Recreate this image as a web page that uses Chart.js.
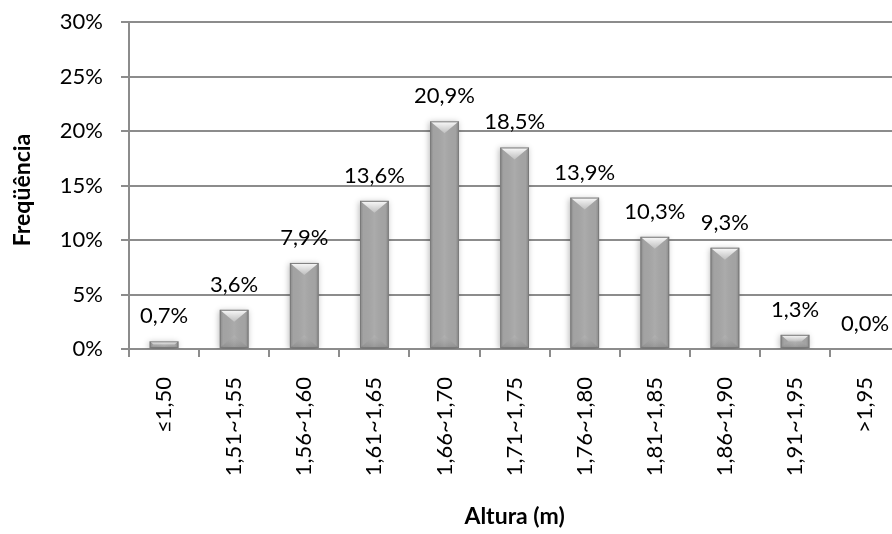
<!DOCTYPE html>
<html>
<head>
<meta charset="utf-8">
<script src="https://cdn.jsdelivr.net/npm/chart.js@4/dist/chart.umd.min.js"></script>
<style>
  html, body { margin: 0; padding: 0; background: #fff; overflow: hidden; }
  #wrap { width: 912px; height: 543px; margin-top: -9px; }
</style>
</head>
<body>
<div id="wrap"><canvas id="histChart" width="912" height="543"></canvas></div>
<script>
const categories = ['≤1,50', '1,51~1,55', '1,56~1,60', '1,61~1,65', '1,66~1,70', '1,71~1,75',
  '1,76~1,80', '1,81~1,85', '1,86~1,90', '1,91~1,95', '>1,95'];
const frequencies = [0.7, 3.6, 7.9, 13.6, 20.9, 18.5, 13.9, 10.3, 9.3, 1.3, 0.0];
const yTicks = [0, 5, 10, 15, 20, 25, 30];

const FONT = 'Lato';
const SHIFT = 9; // canvas is pulled up by this much
const fmt = v => v.toFixed(1).replace('.', ',') + '%';

// soft shadow under the bars, then bevel overlay on top
const bevelPlugin = {
  id: 'bevel',
  beforeDatasetsDraw(chart) {
    const ctx = chart.ctx;
    ctx.save();
    ctx.shadowColor = 'rgba(0,0,0,0.28)';
    ctx.shadowBlur = 6;
    ctx.shadowOffsetX = -1;
    ctx.shadowOffsetY = 1;
  },
  afterDatasetsDraw(chart) {
    const ctx = chart.ctx;
    ctx.restore();
    const meta = chart.getDatasetMeta(0);
    meta.data.forEach((bar, i) => {
      const { x, y, base, width } = bar.getProps(['x', 'y', 'base', 'width'], true);
      const h = base - y;
      if (h < 1) return;
      const L = x - width / 2, R = x + width / 2;
      ctx.save();
      // darker side strips
      let g = ctx.createLinearGradient(L, 0, R, 0);
      g.addColorStop(0, 'rgba(0,0,0,0.18)');
      g.addColorStop(0.12, 'rgba(0,0,0,0.02)');
      g.addColorStop(0.5, 'rgba(255,255,255,0.06)');
      g.addColorStop(0.88, 'rgba(0,0,0,0.02)');
      g.addColorStop(1, 'rgba(0,0,0,0.18)');
      ctx.fillStyle = g;
      ctx.fillRect(L, y, width, h);
      // top bevel
      const d = Math.min(12, h / 2);
      const k = (width / 2) * (d / 12);
      g = ctx.createLinearGradient(0, y, 0, y + d);
      g.addColorStop(0, 'rgba(255,255,255,0.95)');
      g.addColorStop(1, 'rgba(255,255,255,0.25)');
      ctx.fillStyle = g;
      ctx.beginPath();
      ctx.moveTo(L, y); ctx.lineTo(R, y); ctx.lineTo(R - k, y + d); ctx.lineTo(L + k, y + d);
      ctx.closePath(); ctx.fill();
      // bottom bevel
      const d2 = Math.min(13, h / 2);
      const k2 = (width / 2) * (d2 / 13);
      g = ctx.createLinearGradient(0, base, 0, base - d2);
      g.addColorStop(0, 'rgba(0,0,0,0.12)');
      g.addColorStop(1, 'rgba(255,255,255,0.08)');
      ctx.fillStyle = g;
      ctx.beginPath();
      ctx.moveTo(L, base); ctx.lineTo(R, base); ctx.lineTo(R - k2, base - d2); ctx.lineTo(L + k2, base - d2);
      ctx.closePath(); ctx.fill();
      // outline
      ctx.strokeStyle = '#7a7a7a';
      ctx.lineWidth = 1;
      ctx.strokeRect(L + 0.5, y + 0.5, width - 1, h - 1);
      ctx.restore();
    });
  }
};

const labelPlugin = {
  id: 'valueLabels',
  afterDatasetsDraw(chart) {
    const ctx = chart.ctx;
    const meta = chart.getDatasetMeta(0);
    ctx.save();
    ctx.font = '22px ' + FONT;
    ctx.fillStyle = '#000';
    ctx.textAlign = 'center';
    ctx.textBaseline = 'alphabetic';
    meta.data.forEach((bar, i) => {
      ctx.fillText(fmt(frequencies[i]), bar.x, bar.y - 18);
    });
    ctx.restore();
  }
};

const titlePlugin = {
  id: 'axisTitles',
  afterDraw(chart) {
    const ctx = chart.ctx;
    const area = chart.chartArea;
    ctx.save();
    ctx.font = 'bold 23px ' + FONT;
    ctx.fillStyle = '#000';
    ctx.textAlign = 'center';
    ctx.textBaseline = 'middle';
    ctx.fillText('Altura (m)', (area.left + area.right) / 2, 517 + SHIFT);
    ctx.translate(23, 190 + SHIFT);
    ctx.rotate(-Math.PI / 2);
    ctx.fillText('Freqüência', 0, 0);
    ctx.restore();
  }
};

new Chart(document.getElementById('histChart'), {
  type: 'bar',
  data: {
    labels: categories,
    datasets: [{
      data: frequencies,
      backgroundColor: '#a6a6a6',
      borderWidth: 0,
      barPercentage: 0.41,
      categoryPercentage: 1
    }]
  },
  options: {
    responsive: false,
    animation: false,
    layout: { padding: { top: 0, right: 10, left: 0, bottom: 0 } },
    plugins: { legend: { display: false }, tooltip: { enabled: false } },
    scales: {
      x: {
        grid: { drawOnChartArea: false, drawTicks: true, tickLength: 8, color: '#8c8c8c', lineWidth: 2 },
        border: { color: '#8c8c8c', width: 2 },
        ticks: {
          minRotation: 90, maxRotation: 90, padding: 20, autoSkip: false,
          color: '#000', font: { family: FONT, size: 22 }
        },
        afterFit(scale) { scale.height = 185; }
      },
      y: {
        min: 0, max: 30,
        afterBuildTicks(scale) { scale.ticks = yTicks.map(v => ({ value: v })); },
        grid: { tickLength: 8, color: '#8c8c8c', lineWidth: 2 },
        border: { color: '#8c8c8c', width: 2 },
        ticks: {
          padding: 18, color: '#000', font: { family: FONT, size: 22 },
          callback: v => v + '%'
        },
        afterFit(scale) { scale.width = 129; }
      }
    }
  },
  plugins: [bevelPlugin, labelPlugin, titlePlugin]
});
</script>
</body>
</html>
